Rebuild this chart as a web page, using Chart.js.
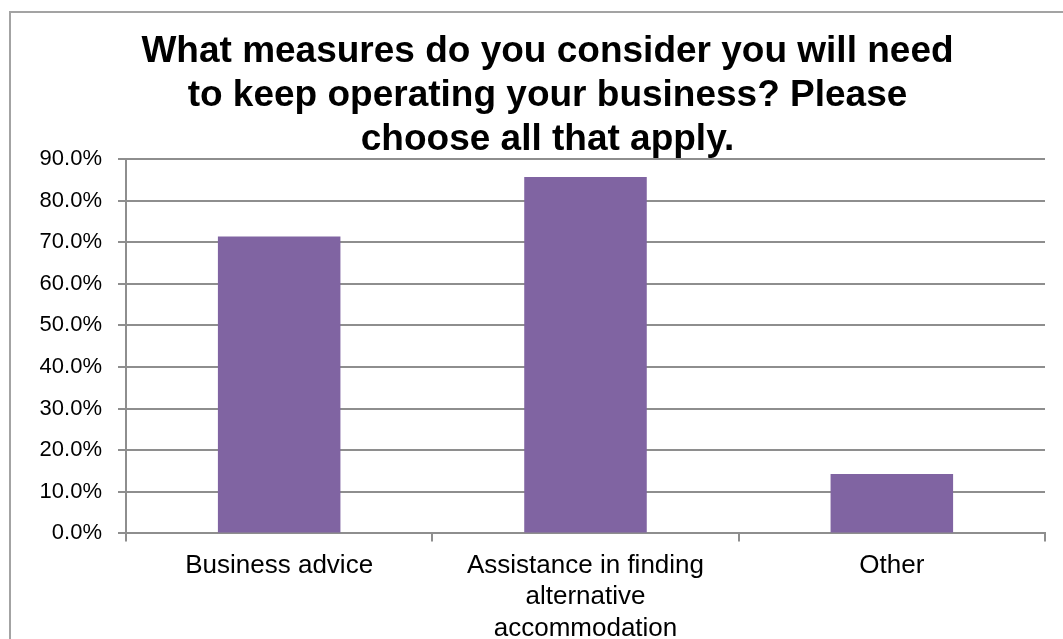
<!DOCTYPE html>
<html>
<head>
<meta charset="utf-8">
<script src="https://cdn.jsdelivr.net/npm/chart.js@4"></script>
<style>
  html, body { margin: 0; padding: 0; overflow: hidden; background: #fff; }
  #frame {
    position: absolute; left: 9px; top: 11px; width: 2000px; height: 2000px;
    border-left: 2px solid #a3a3a3; border-top: 2px solid #a3a3a3;
  }
  #chart { position: absolute; left: 0; top: 0; }
</style>
</head>
<body>
<div id="frame"></div>
<canvas id="chart" width="1063" height="653"></canvas>
<script>
// survey answers, share of respondents (%)
const titleLines = [
  'What measures do you consider you will need',
  'to keep operating your business? Please',
  'choose all that apply.'
];
const categories = [
  'Business advice',
  ['Assistance in finding', 'alternative', 'accommodation'],
  'Other'
];
const shares = [71.4, 85.7, 14.3];
const yMin = 0;
const yMax = 90;
const yStep = 10;

const FONT = "'Liberation Sans', Arial, Helvetica, sans-serif";
const GRID = '#8e8e8e';

// the title sits centred on the whole frame, a bit right of the plot's own centre
const titleShift = {
  id: 'titleShift',
  afterLayout(chart) {
    const t = chart.titleBlock;
    if (t) { t.left += 15; t.right += 15; }
  }
};

const ctx = document.getElementById('chart').getContext('2d');
new Chart(ctx, {
  type: 'bar',
  data: {
    labels: categories,
    datasets: [{
      label: 'Share',
      data: shares,
      backgroundColor: '#8064A2',
      barPercentage: 0.4,
      categoryPercentage: 1.0
    }]
  },
  options: {
    responsive: false,
    animation: false,
    layout: { padding: { left: 20, right: 18, top: 0, bottom: 0 } },
    plugins: {
      legend: { display: false },
      tooltip: { enabled: false },
      title: {
        display: true,
        text: titleLines,
        color: '#000',
        font: { family: FONT, size: 37, weight: 'bold', lineHeight: 44 / 37 },
        padding: { top: 30, bottom: -3 }
      }
    },
    scales: {
      x: {
        grid: {
          display: true,
          drawOnChartArea: false,
          drawTicks: true,
          tickLength: 8,
          color: GRID,
          lineWidth: 2
        },
        border: { color: GRID, width: 2 },
        ticks: {
          color: '#000',
          padding: 9,
          maxRotation: 0,
          font: { family: FONT, size: 26, lineHeight: 1.2 }
        }
      },
      y: {
        min: yMin,
        max: yMax,
        afterFit: scale => { scale.width = 106; },
        grid: { color: GRID, lineWidth: 2, tickLength: 8 },
        border: { color: GRID, width: 2 },
        ticks: {
          stepSize: yStep,
          color: '#000',
          padding: 16,
          font: { family: FONT, size: 22 },
          callback: v => v.toFixed(1) + '%'
        }
      }
    }
  },
  plugins: [titleShift]
});
</script>
</body>
</html>
